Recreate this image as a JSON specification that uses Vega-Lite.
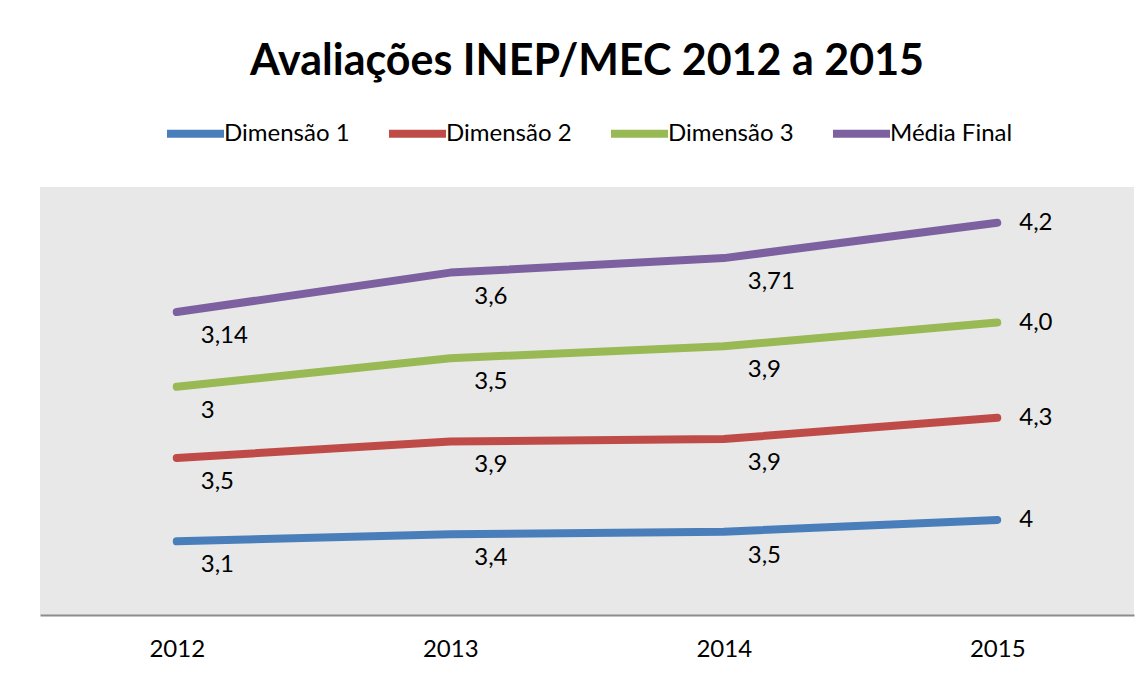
{
  "$schema": "https://vega.github.io/schema/vega-lite/v6.json",
  "autosize": {"type": "none"},
  "width": 1094,
  "height": 428,
  "padding": {"left": 40, "top": 187, "right": 5, "bottom": 60},
  "background": "white",
  "title": {
    "text": "Avaliações INEP/MEC 2012 a 2015",
    "font": "Lato",
    "fontSize": 43,
    "fontWeight": "bold",
    "color": "black",
    "anchor": "middle",
    "frame": "group",
    "baseline": "alphabetic",
    "offset": 36,
    "dy": 53
  },
  "config": {
    "view": {"fill": "#e8e8e8", "stroke": null},
    "font": "Lato"
  },
  "data": {
    "values": [
      {"ano": "2012", "serie": "Dimensão 1", "ordem": 1, "valor": 3.1, "rotulo": "3,1"},
      {"ano": "2013", "serie": "Dimensão 1", "ordem": 1, "valor": 3.4, "rotulo": "3,4"},
      {"ano": "2014", "serie": "Dimensão 1", "ordem": 1, "valor": 3.5, "rotulo": "3,5"},
      {"ano": "2015", "serie": "Dimensão 1", "ordem": 1, "valor": 4.0, "rotulo": "4"},
      {"ano": "2012", "serie": "Dimensão 2", "ordem": 2, "valor": 3.5, "rotulo": "3,5"},
      {"ano": "2013", "serie": "Dimensão 2", "ordem": 2, "valor": 3.9, "rotulo": "3,9"},
      {"ano": "2014", "serie": "Dimensão 2", "ordem": 2, "valor": 3.9, "rotulo": "3,9"},
      {"ano": "2015", "serie": "Dimensão 2", "ordem": 2, "valor": 4.3, "rotulo": "4,3"},
      {"ano": "2012", "serie": "Dimensão 3", "ordem": 3, "valor": 3.0, "rotulo": "3"},
      {"ano": "2013", "serie": "Dimensão 3", "ordem": 3, "valor": 3.5, "rotulo": "3,5"},
      {"ano": "2014", "serie": "Dimensão 3", "ordem": 3, "valor": 3.9, "rotulo": "3,9"},
      {"ano": "2015", "serie": "Dimensão 3", "ordem": 3, "valor": 4.0, "rotulo": "4,0"},
      {"ano": "2012", "serie": "Média Final", "ordem": 4, "valor": 3.14, "rotulo": "3,14"},
      {"ano": "2013", "serie": "Média Final", "ordem": 4, "valor": 3.6, "rotulo": "3,6"},
      {"ano": "2014", "serie": "Média Final", "ordem": 4, "valor": 3.71, "rotulo": "3,71"},
      {"ano": "2015", "serie": "Média Final", "ordem": 4, "valor": 4.2, "rotulo": "4,2"}
    ]
  },
  "encoding": {
    "x": {
      "field": "ano",
      "type": "ordinal",
      "scale": {"type": "point", "padding": 0.5},
      "axis": {
        "title": null,
        "labelAngle": 0,
        "labelFont": "Lato",
        "labelFontSize": 24,
        "labelColor": "black",
        "labelPadding": 22,
        "ticks": false,
        "domainColor": "#8c8c8c",
        "domainWidth": 2,
        "grid": false
      }
    },
    "y": {
      "field": "valor",
      "type": "quantitative",
      "stack": "zero",
      "scale": {"domain": [0, 18], "nice": false, "zero": true},
      "axis": null
    },
    "order": {"field": "ordem", "type": "quantitative", "sort": "ascending"}
  },
  "layer": [
    {
      "mark": {"type": "line", "strokeWidth": 8, "strokeCap": "round", "strokeJoin": "round"},
      "encoding": {
        "color": {
          "field": "serie",
          "type": "nominal",
          "scale": {
            "domain": ["Dimensão 1", "Dimensão 2", "Dimensão 3", "Média Final"],
            "range": ["#4a7ebb", "#be4b48", "#98b954", "#7d60a0"]
          },
          "legend": {
            "title": null,
            "orient": "none",
            "direction": "horizontal",
            "legendX": 123,
            "legendY": -86,
            "symbolType": "stroke",
            "symbolSize": 3249,
            "symbolStrokeWidth": 8,
            "labelFont": "Lato",
            "labelFontSize": 24,
            "labelColor": "black",
            "labelOffset": -4,
            "columnPadding": 23,
            "gridAlign": "all"
          }
        }
      }
    },
    {
      "transform": [{"filter": "datum.ano != '2015'"}],
      "mark": {"type": "text", "align": "left", "baseline": "middle", "dx": 24, "dy": 24, "fontSize": 24, "font": "Lato", "color": "black"},
      "encoding": {
        "detail": {"field": "serie", "type": "nominal"},
        "text": {"field": "rotulo", "type": "nominal"}
      }
    },
    {
      "transform": [{"filter": "datum.ano == '2015'"}],
      "mark": {"type": "text", "align": "left", "baseline": "middle", "dx": 22, "dy": 0, "fontSize": 24, "font": "Lato", "color": "black"},
      "encoding": {
        "detail": {"field": "serie", "type": "nominal"},
        "text": {"field": "rotulo", "type": "nominal"}
      }
    }
  ]
}
